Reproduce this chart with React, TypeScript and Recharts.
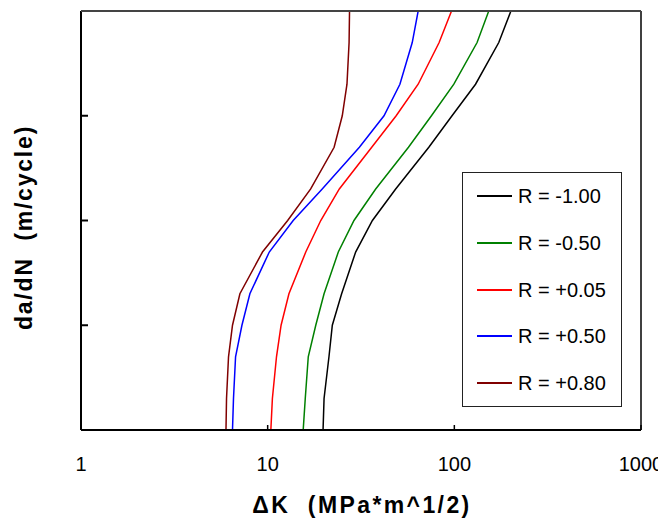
import { LineChart, Line, XAxis, YAxis, Label, ReferenceLine } from 'recharts';

// relative crack growth rate levels (y axis is unlabeled, 4 decades, 1-2-5 steps)
const rateLevels = [1, 2, 5, 10, 20, 50, 100, 200, 500, 1000, 2000, 5000, 10000];

// delta K (MPa*m^1/2) read at each rate level, one list per stress ratio
const dkRm100 = [19.8, 20.05, 21.3, 22.2, 24.9, 29.6, 36.4, 48.5, 73.0, 97.2, 129.9, 173, 201];
const dkRm050 = [15.5, 15.9, 16.5, 18.1, 20.05, 23.9, 29.0, 37.9, 56.8, 75.4, 99.4, 132.4, 152.9];
const dkRp005 = [10.4, 10.6, 11.15, 11.8, 13.0, 16.0, 19.25, 24.2, 36.1, 48.8, 64.0, 82.9, 96.6];
const dkRp050 = [6.48, 6.56, 6.73, 7.28, 8.03, 10.2, 13.7, 19.6, 31.0, 42.0, 51.1, 59.5, 64.0];
const dkRp080 = [5.98, 6.02, 6.17, 6.48, 7.1, 9.38, 12.8, 17.0, 22.7, 25.1, 26.6, 27.3, 27.45];

const xTicks = [1, 10, 100, 1000];
const yTicks = [1, 10, 100, 1000, 10000];

const series = [
  { name: 'R = -1.00', color: '#000000', dk: dkRm100 },
  { name: 'R = -0.50', color: '#008000', dk: dkRm050 },
  { name: 'R = +0.05', color: '#ff0000', dk: dkRp005 },
  { name: 'R = +0.50', color: '#0000ff', dk: dkRp050 },
  { name: 'R = +0.80', color: '#800000', dk: dkRp080 },
];

const toPoints = (dk: number[]) => dk.map((v, i) => ({ dK: v, rate: rateLevels[i] }));

const font = 'Arial, "Liberation Sans", Helvetica, sans-serif';

const YTitle = () => (
  <text
    x={23.7}
    y={219.5}
    transform="rotate(-90 23.7 219.5)"
    textAnchor="middle"
    fontSize={23}
    fontWeight="bold"
    letterSpacing={1.8}
    fill="#000"
    style={{ whiteSpace: 'pre' }}
  >
    {'da/dN  (m/cycle)'}
  </text>
);

const XTitle = () => (
  <text
    x={354}
    y={505}
    textAnchor="middle"
    fontSize={23}
    fontWeight="bold"
    letterSpacing={2.4}
    fill="#000"
    style={{ whiteSpace: 'pre' }}
  >
    {'\u0394K  (MPa*m^1/2)'}
  </text>
);

export default function App() {
  return (
    <div style={{ position: 'relative', width: 658, height: 510, fontFamily: font }}>
      <LineChart width={658} height={510} margin={{ top: 3, right: 25, bottom: 0, left: 0 }}>
        <XAxis
          dataKey="dK"
          type="number"
          scale="log"
          domain={[1, 1000]}
          ticks={xTicks}
          allowDataOverflow
          height={88}
          axisLine={{ stroke: '#000', strokeWidth: 2 }}
          tickLine={{ stroke: '#000', strokeWidth: 1.5 }}
          tickSize={-5}
          tickMargin={31.5}
          tick={{ fill: '#000', fontSize: 20 }}
        >
          <Label content={<XTitle />} />
        </XAxis>
        <YAxis
          dataKey="rate"
          type="number"
          scale="log"
          domain={[1, 10000]}
          ticks={yTicks}
          allowDataOverflow
          width={73}
          axisLine={{ stroke: '#000', strokeWidth: 2 }}
          tickLine={{ stroke: '#000', strokeWidth: 2 }}
          tickSize={-7}
          tickFormatter={() => ''}
        >
          <Label content={<YTitle />} />
        </YAxis>
        {/* right edge of the plot box */}
        <ReferenceLine x={1000} stroke="#000" strokeWidth={1.5} ifOverflow="visible" />
        {series.map((s) => (
          <Line
            key={s.name}
            data={toPoints(s.dk)}
            dataKey="rate"
            name={s.name}
            type="linear"
            stroke={s.color}
            strokeWidth={1.5}
            dot={false}
            isAnimationActive={false}
          />
        ))}
      </LineChart>
      {/* top edge of the plot box */}
      <div
        style={{
          position: 'absolute',
          left: 73,
          top: 2,
          width: 560,
          height: 2,
          background: '#444',
        }}
      />
      <div
        style={{
          position: 'absolute',
          left: 454,
          top: 164,
          width: 160,
          height: 235,
          boxSizing: 'border-box',
          border: '1px solid #222',
          background: '#fff',
        }}
      >
        {series.map((s, i) => (
          <div
            key={s.name}
            style={{
              position: 'absolute',
              left: 14,
              top: Math.round(11 + i * 46.75),
              height: 24,
              display: 'flex',
              alignItems: 'center',
              whiteSpace: 'nowrap',
            }}
          >
            <div style={{ width: 35, height: 2, background: s.color }} />
            <span style={{ marginLeft: 6, fontSize: 20, color: '#000' }}>{s.name}</span>
          </div>
        ))}
      </div>
    </div>
  );
}
